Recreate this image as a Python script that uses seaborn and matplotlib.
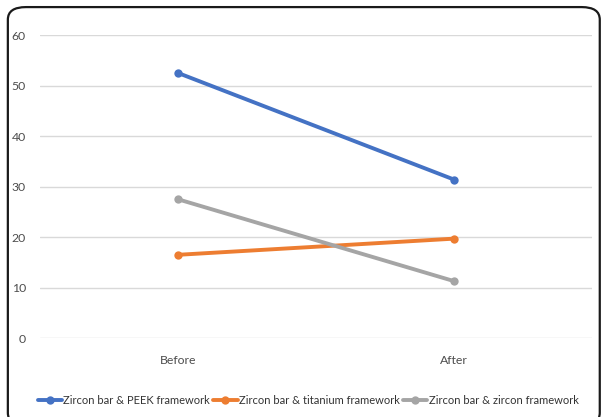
import matplotlib
matplotlib.use("Agg")
import matplotlib.pyplot as plt
from matplotlib.patches import FancyBboxPatch
import seaborn as sns
import pandas as pd

# Measurement time points
categories = ["Before", "After"]

# Series values
peek = [52.5, 31.4]
titanium = [16.5, 19.7]
zircon = [27.5, 11.3]

series_names = [
    "Zircon bar & PEEK framework",
    "Zircon bar & titanium framework",
    "Zircon bar & zircon framework",
]
colors = ["#4472C4", "#ED7D31", "#A5A5A5"]

yticks = [0, 10, 20, 30, 40, 50, 60]

rows = []
for name, vals in zip(series_names, [peek, titanium, zircon]):
    for i, v in enumerate(vals):
        rows.append({"pos": i, "value": v, "series": name})
df = pd.DataFrame(rows)

sns.set_style("white")
plt.rcParams["font.family"] = ["Lato", "DejaVu Sans"]

fig = plt.figure(figsize=(6.04, 4.17), dpi=100)
ax = fig.add_axes([0.066, 0.189, 0.914, 0.727])

sns.lineplot(
    data=df, x="pos", y="value", hue="series", hue_order=series_names,
    palette=colors, marker="o", markersize=6, markeredgewidth=0,
    linewidth=2.8, ax=ax, legend=True,
)

ax.set_xlim(-0.5, 1.5)
ax.set_ylim(0, 60)
ax.set_xticks(range(len(categories)))
ax.set_xticklabels(categories)
ax.set_yticks(yticks)
ax.set_xlabel("")
ax.set_ylabel("")
ax.grid(axis="y", color="#D9D9D9", linewidth=1.0)
ax.set_axisbelow(True)
for s in ax.spines.values():
    s.set_visible(False)
ax.tick_params(axis="both", length=0, labelsize=8.8, labelcolor="#4d4d4d")
ax.tick_params(axis="x", pad=12)
ax.tick_params(axis="y", pad=10)

handles, labels = ax.get_legend_handles_labels()
ax.legend(
    handles, labels, loc="center", bbox_to_anchor=(0.51, 0.04),
    bbox_transform=fig.transFigure, ncol=3, frameon=False, fontsize=8.0,
    handlelength=2.2, handletextpad=0.1, columnspacing=0.3,
    labelcolor="#333333",
)

# Rounded outer frame
frame = FancyBboxPatch(
    (0.013, -0.02), 0.98, 1.003, boxstyle="round,pad=0,rounding_size=0.03",
    transform=fig.transFigure, fill=False, edgecolor="#1a1a1a", linewidth=1.6,
)
fig.patches.append(frame)

fig.savefig("out.png", dpi=100)
